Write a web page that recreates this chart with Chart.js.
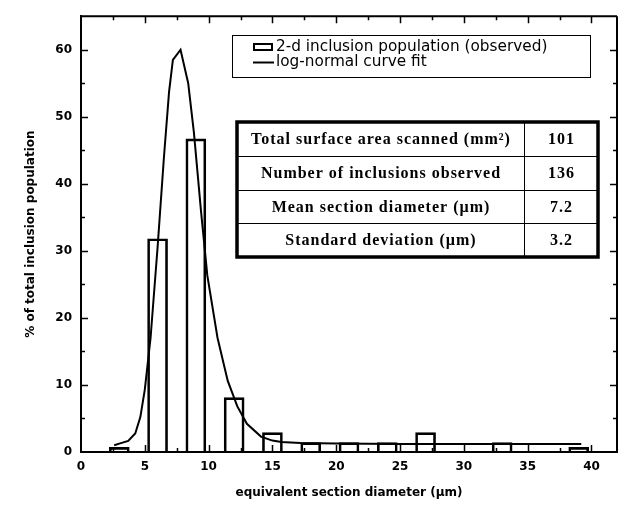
<!DOCTYPE html>
<html>
<head>
<meta charset="utf-8">
<script src="https://cdn.jsdelivr.net/npm/chart.js@4/dist/chart.umd.min.js"></script>
<style>
html,body{margin:0;padding:0;background:#fff;}
#wrap{width:622px;height:506px;position:relative;}
</style>
</head>
<body>
<div id="wrap"><canvas id="c"></canvas></div>
<script>
// ---- data ----
const binCenters = [3, 6, 9, 12, 15, 18, 21, 24, 27, 30, 33, 36, 39];
const observedPct = [0.7, 31.8, 46.7, 8.1, 2.9, 1.4, 1.4, 1.4, 2.9, 0, 1.4, 0, 0.7];
const fitX = [2.6, 3.0, 3.7, 4.25, 4.65, 5.0, 5.45, 6.0, 6.5, 6.9, 7.2, 7.8, 8.4, 8.85, 9.4, 9.9, 10.7, 11.5, 12.25, 13.0, 14.1, 15.0, 15.7, 17.2, 20, 25, 30, 35, 39.2];
const fitY = [1.0, 1.25, 1.65, 2.75, 5.2, 9.3, 17, 30.5, 44, 53.7, 58.5, 60, 55, 47.6, 36, 26.3, 17, 10.6, 6.8, 4.2, 2.3, 1.7, 1.5, 1.35, 1.25, 1.2, 1.2, 1.2, 1.2];
const xTickValues = [0, 5, 10, 15, 20, 25, 30, 35, 40];
const yTickValues = [0, 10, 20, 30, 40, 50, 60];
const seriesNames = ['2-d inclusion population (observed)', 'log-normal curve fit'];
const xTitle = 'equivalent section diameter (µm)';
const yTitle = '% of total inclusion population';
const tableLabels = ['Total surface area scanned (mm²)', 'Number of inclusions observed', 'Mean section diameter (µm)', 'Standard deviation (µm)'];
const tableValues = ['101', '136', '7.2', '3.2'];

const SANS = '"DejaVu Sans", "Liberation Sans", Arial, sans-serif';
const SERIF = '"Liberation Serif", "Times New Roman", serif';

// inward ticks, top/right frame
const framePlugin = {
  id: 'frame',
  afterDraw(chart) {
    const {ctx, chartArea: a, scales} = chart;
    const xs = scales.x, ys = scales.y;
    ctx.save();
    ctx.strokeStyle = '#000';
    ctx.lineWidth = 2;
    ctx.beginPath();
    ctx.moveTo(a.left, a.top); ctx.lineTo(a.right, a.top);
    ctx.moveTo(a.right, a.top); ctx.lineTo(a.right, a.bottom);
    ctx.stroke();
    ctx.lineWidth = 1.5;
    ctx.beginPath();
    for (let v = 2.5; v <= 40; v += 2.5) {
      const px = Math.round(xs.getPixelForValue(v)) + 0.5;
      const len = (v % 5 === 0) ? 7 : 4;
      ctx.moveTo(px, a.bottom); ctx.lineTo(px, a.bottom - len);
      ctx.moveTo(px, a.top); ctx.lineTo(px, a.top + len);
    }
    for (let v = 5; v <= 60; v += 5) {
      const py = Math.round(ys.getPixelForValue(v)) + 0.5;
      const len = (v % 10 === 0) ? 7 : 4;
      ctx.moveTo(a.left, py); ctx.lineTo(a.left + len, py);
      ctx.moveTo(a.right, py); ctx.lineTo(a.right - len, py);
    }
    ctx.stroke();
    ctx.restore();
  }
};

const legendTablePlugin = {
  id: 'legendTable',
  afterDraw(chart) {
    const ctx = chart.ctx;
    ctx.save();
    // legend box
    ctx.strokeStyle = '#000';
    ctx.lineWidth = 1;
    ctx.strokeRect(232.5, 35.5, 358, 42);
    ctx.lineWidth = 2;
    ctx.strokeRect(254, 44, 18, 6);
    ctx.beginPath();
    ctx.moveTo(253, 62.5); ctx.lineTo(274, 62.5);
    ctx.stroke();
    ctx.fillStyle = '#000';
    ctx.font = '15.3px ' + SANS;
    ctx.textAlign = 'left';
    ctx.textBaseline = 'middle';
    ctx.fillText(seriesNames[0], 276, 47.5);
    ctx.fillText(seriesNames[1], 276, 62.5);
    // table
    const L = 237, R = 598, T = 122, B = 257, C = 524;
    const rowH = (B - T) / tableLabels.length;
    ctx.lineWidth = 1;
    ctx.beginPath();
    ctx.moveTo(C + 0.5, T); ctx.lineTo(C + 0.5, B);
    for (let i = 1; i < tableLabels.length; i++) {
      const y = Math.round(T + rowH * i) + 0.5;
      ctx.moveTo(L, y); ctx.lineTo(R, y);
    }
    ctx.stroke();
    ctx.lineWidth = 3.5;
    ctx.strokeRect(L, T, R - L, B - T);
    ctx.font = 'bold 16px ' + SERIF;
    ctx.letterSpacing = '1px';
    ctx.textAlign = 'center';
    for (let i = 0; i < tableLabels.length; i++) {
      const y = T + rowH * (i + 0.5) + 1;
      ctx.fillText(tableLabels[i], (L + C) / 2 + 0.5, y);
      ctx.fillText(tableValues[i], (C + R) / 2 + 0.5, y);
    }
    ctx.restore();
  }
};

new Chart(document.getElementById('c'), {
  type: 'bar',
  data: {
    datasets: [
      {
        type: 'line',
        label: seriesNames[1],
        data: fitX.map((x, i) => ({x: x, y: fitY[i]})),
        borderColor: '#000',
        borderWidth: 2,
        pointRadius: 0,
        tension: 0,
        fill: false,
        order: 0
      },
      {
        type: 'bar',
        label: seriesNames[0],
        data: binCenters.map((x, i) => ({x: x, y: observedPct[i]})),
        backgroundColor: 'rgba(255,255,255,0)',
        borderColor: '#000',
        borderWidth: 2,
        borderSkipped: 'bottom',
        barThickness: 20,
        order: 1
      }
    ]
  },
  options: {
    responsive: true,
    maintainAspectRatio: false,
    animation: false,
    layout: {padding: {top: 10, right: 5, left: 0, bottom: 0}},
    plugins: {legend: {display: false}, tooltip: {enabled: false}},
    scales: {
      x: {
        type: 'linear', min: 0, max: 42, offset: false,
        afterBuildTicks: s => { s.ticks = xTickValues.map(v => ({value: v})); },
        afterFit: s => { s.height = 54; },
        grid: {display: false, drawTicks: false},
        border: {display: true, color: '#000', width: 2},
        ticks: {color: '#000', font: {family: SANS, size: 12, weight: 'bold'}, padding: 8, maxRotation: 0},
        title: {display: true, text: xTitle, color: '#000', font: {family: SANS, size: 12, weight: 'bold'}, padding: {top: 0, bottom: 6}}
      },
      y: {
        type: 'linear', min: 0, max: 65,
        afterBuildTicks: s => { s.ticks = yTickValues.map(v => ({value: v})); },
        afterFit: s => { s.width = 81; },
        grid: {display: false, drawTicks: false},
        border: {display: true, color: '#000', width: 2},
        ticks: {color: '#000', font: {family: SANS, size: 12, weight: 'bold'}, padding: 9},
        title: {display: true, text: yTitle, color: '#000', font: {family: SANS, size: 12, weight: 'bold'}, padding: {top: 24, bottom: 0}}
      }
    }
  },
  plugins: [framePlugin, legendTablePlugin]
});
</script>
</body>
</html>
